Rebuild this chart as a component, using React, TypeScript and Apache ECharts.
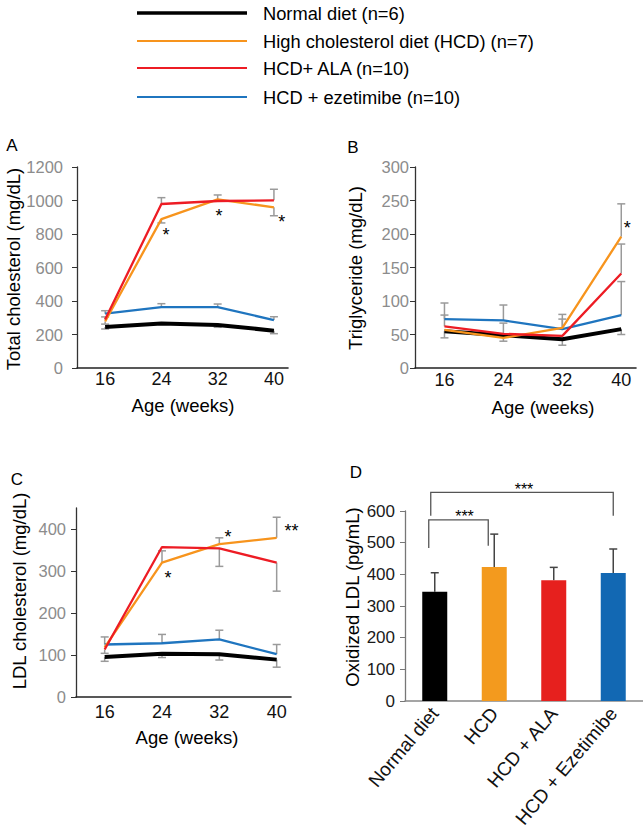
import React, { useEffect, useRef } from "react";
import * as echarts from "echarts";

const FONT = "'Liberation Sans', Arial, Helvetica, sans-serif";

// ---------- shared ----------
const weeks = [16, 24, 32, 40];
const groupNames = [
  "Normal diet (n=6)",
  "High cholesterol diet (HCD) (n=7)",
  "HCD+ ALA (n=10)",
  "HCD + ezetimibe (n=10)",
];
const groupColors = ["#000000", "#F7941D", "#ED1C24", "#1F75BF"];
const groupWidths = [4, 2.3, 2.3, 2.3];
const drawOrder = [0, 3, 1, 2];

// ---------- A: total cholesterol (mg/dL) ----------
const tcNormal = [245, 265, 257, 223];
const tcHCD = [278, 889, 1007, 959];
const tcALA = [290, 979, 997, 1001];
const tcEze = [324, 364, 364, 286];
// [week, mean, whisker end]
const tcErr = [
  [16, 324, 342], [16, 290, 305], [16, 278, 262], [16, 245, 233],
  [24, 979, 1017], [24, 889, 866], [24, 364, 384],
  [32, 1007, 1033], [32, 364, 382], [32, 257, 243],
  [40, 1001, 1067], [40, 959, 909], [40, 286, 306], [40, 223, 205],
];
const tcStars = [[24.65, 818], [32.2, 931], [41.1, 896]];
const tcStarText = ["*", "*", "*"];

// ---------- B: triglyceride (mg/dL) ----------
const tgNormal = [55, 49, 43, 58];
const tgHCD = [57, 45, 60, 196];
const tgALA = [62, 51, 48, 141];
const tgEze = [73, 71, 58, 79];
const tgErr = [
  [16, 73, 97], [16, 62, 79], [16, 55, 45],
  [24, 71, 94], [24, 51, 67], [24, 49, 40],
  [32, 58, 80], [32, 60, 73], [32, 43, 34],
  [40, 196, 245], [40, 141, 185], [40, 79, 129], [40, 58, 50],
];
const tgStars = [[40.8, 215]];
const tgStarText = ["*"];

// ---------- C: LDL cholesterol (mg/dL) ----------
const ldlNormal = [95, 103, 102, 89];
const ldlHCD = [118, 320, 364, 379];
const ldlALA = [113, 357, 354, 320];
const ldlEze = [125, 128, 137, 102];
const ldlErr = [
  [16, 125, 143], [16, 113, 104], [16, 95, 85],
  [24, 320, 348], [24, 128, 149], [24, 103, 94],
  [32, 364, 379], [32, 354, 311], [32, 137, 159], [32, 102, 88],
  [40, 379, 428], [40, 320, 252], [40, 102, 125], [40, 89, 71],
];
const ldlStars = [[24.84, 293], [33.2, 390], [42.07, 405]];
const ldlStarText = ["*", "*", "**"];

// ---------- D: oxidized LDL (pg/mL) ----------
const oxNames = ["Normal diet", "HCD", "HCD + ALA", "HCD + Ezetimibe"];
const oxValues = [345, 423, 381, 404];
const oxErrHigh = [405, 527, 422, 480];
const oxColors = ["#000000", "#F39A1E", "#E6201E", "#1268B3"];
// [from index, to index, bracket top, left leg end, right leg end]
const oxBrackets = [
  [0, 1, 572, 483, 490],
  [0, 3, 659, 585, 585],
];
const oxBracketText = ["***", "***"];

const linePanels = [
  { y: [tcNormal, tcHCD, tcALA, tcEze], err: tcErr, stars: tcStars, starText: tcStarText },
  { y: [tgNormal, tgHCD, tgALA, tgEze], err: tgErr, stars: tgStars, starText: tgStarText },
  { y: [ldlNormal, ldlHCD, ldlALA, ldlEze], err: ldlErr, stars: ldlStars, starText: ldlStarText },
];

function text(x: number, y: number, s: string, size: number, extra: any = {}) {
  return {
    type: "text",
    x,
    y,
    rotation: extra.rotation || 0,
    style: {
      text: s,
      font: `${size}px ${FONT}`,
      fill: extra.fill || "#000",
      align: extra.align || "center",
      verticalAlign: "middle",
      textAlign: extra.align || "center",
      textVerticalAlign: "middle",
    },
  };
}

const plain = (v: number) => String(v);

export default function App() {
  const ref = useRef<HTMLDivElement>(null);

  useEffect(() => {
    document.body.style.margin = "0";
    const chart = echarts.init(ref.current!, null, { renderer: "svg" });

    const grids = [
      { left: 77, top: 167, width: 211, height: 201 },
      { left: 415, top: 167, width: 221, height: 201 },
      { left: 76, top: 508, width: 215, height: 189 },
      { left: 405, top: 511, width: 244, height: 190 },
    ];

    const lineX = (labelMargin: number) => ({
      type: "value",
      min: 12,
      max: 42,
      axisLine: { show: true, onZero: false, lineStyle: { color: "#222", width: 1.6 } },
      axisTick: { show: false },
      splitLine: { show: false },
      axisLabel: {
        customValues: weeks,
        formatter: plain,
        color: "#111",
        fontSize: 18,
        fontFamily: FONT,
        margin: labelMargin,
      },
    });

    const xAxis: any[] = [
      { ...lineX(2), gridIndex: 0 },
      { ...lineX(3), gridIndex: 1 },
      { ...lineX(6), gridIndex: 2 },
      {
        gridIndex: 3,
        type: "category",
        data: oxNames,
        boundaryGap: true,
        axisLine: { show: true, lineStyle: { color: "#888", width: 1.5 } },
        axisTick: { show: false },
        axisLabel: {
          interval: 0,
          rotate: 50,
          color: "#111",
          fontSize: 19,
          fontFamily: FONT,
          margin: 9,
        },
      },
    ];

    const yBase = (gi: number, max: number, interval: number, margin: number, color: string, lineColor: string, fs: number, custom?: number[]) => ({
      gridIndex: gi,
      type: "value",
      min: 0,
      max,
      interval,
      splitLine: { show: false },
      axisLine: { show: true, lineStyle: { color: lineColor, width: 1.3 } },
      axisTick: custom
        ? { show: true, length: 5, customValues: custom, lineStyle: { color: lineColor } }
        : { show: true, length: 5, lineStyle: { color: lineColor } },
      axisLabel: custom
        ? { customValues: custom, formatter: plain, color, fontSize: fs, fontFamily: FONT, margin }
        : { formatter: plain, color, fontSize: fs, fontFamily: FONT, margin },
    });

    const yAxis: any[] = [
      yBase(0, 1200, 200, 14, "#8c8c8c", "#333", 16.5),
      yBase(1, 300, 50, 6, "#8c8c8c", "#333", 16.5),
      yBase(2, 450, 50, 10, "#8c8c8c", "#333", 16.5, [0, 100, 200, 300, 400]),
      yBase(3, 600, 100, 10, "#1a1a1a", "#777", 17),
    ];

    const series: any[] = [];
    linePanels.forEach((p, pi) => {
      series.push({
        type: "custom",
        xAxisIndex: pi,
        yAxisIndex: pi,
        z: 1,
        clip: false,
        data: p.err,
        renderItem: (params: any, api: any) => {
          const a = api.coord([api.value(0), api.value(1)]);
          const b = api.coord([api.value(0), api.value(2)]);
          const st = { stroke: "#9a9a9a", lineWidth: 1.5 };
          return {
            type: "group",
            children: [
              { type: "line", shape: { x1: a[0], y1: a[1], x2: b[0], y2: b[1] }, style: st },
              { type: "line", shape: { x1: b[0] - 4, y1: b[1], x2: b[0] + 4, y2: b[1] }, style: st },
            ],
          };
        },
      });
      drawOrder.forEach((gi) => {
        series.push({
          type: "line",
          name: groupNames[gi],
          xAxisIndex: pi,
          yAxisIndex: pi,
          z: 3,
          showSymbol: false,
          symbol: "none",
          data: weeks.map((w, i) => [w, p.y[gi][i]]),
          lineStyle: { color: groupColors[gi], width: groupWidths[gi] },
          itemStyle: { color: groupColors[gi] },
        });
      });
      series.push({
        type: "custom",
        xAxisIndex: pi,
        yAxisIndex: pi,
        z: 4,
        clip: false,
        data: p.stars,
        renderItem: (params: any, api: any) => {
          const c = api.coord([api.value(0), api.value(1)]);
          return text(c[0], c[1] + 4, p.starText[params.dataIndex], 18);
        },
      });
    });

    // D bars
    series.push({
      type: "bar",
      xAxisIndex: 3,
      yAxisIndex: 3,
      barWidth: 25,
      z: 2,
      data: oxValues.map((v, i) => ({ value: v, itemStyle: { color: oxColors[i] } })),
    });
    series.push({
      type: "custom",
      xAxisIndex: 3,
      yAxisIndex: 3,
      z: 1,
      clip: false,
      data: oxValues.map((v, i) => [i, v, oxErrHigh[i]]),
      renderItem: (params: any, api: any) => {
        const a = api.coord([api.value(0), api.value(1)]);
        const b = api.coord([api.value(0), api.value(2)]);
        const st = { stroke: "#444", lineWidth: 1.5 };
        return {
          type: "group",
          children: [
            { type: "line", shape: { x1: a[0], y1: a[1], x2: b[0], y2: b[1] }, style: st },
            { type: "line", shape: { x1: b[0] - 4, y1: b[1], x2: b[0] + 4, y2: b[1] }, style: st },
          ],
        };
      },
    });
    const legNudge = [[-6, -6], [-4, 0]];
    series.push({
      type: "custom",
      xAxisIndex: 3,
      yAxisIndex: 3,
      z: 3,
      clip: false,
      data: oxBrackets,
      renderItem: (params: any, api: any) => {
        const i = params.dataIndex;
        const top1 = api.coord([api.value(0), api.value(2)]);
        const top2 = api.coord([api.value(1), api.value(2)]);
        const l1 = api.coord([api.value(0), api.value(3)]);
        const l2 = api.coord([api.value(1), api.value(4)]);
        const x1 = top1[0] + legNudge[i][0];
        const x2 = top2[0] + legNudge[i][1];
        return {
          type: "group",
          children: [
            {
              type: "polyline",
              shape: { points: [[x1, l1[1]], [x1, top1[1]], [x2, top2[1]], [x2, l2[1]]] },
              style: { stroke: "#555", lineWidth: 1.3, fill: "none" },
            },
            text((top1[0] + top2[0]) / 2, top1[1] - 3, oxBracketText[i], 16),
          ],
        };
      },
    });

    const graphic: any[] = [];
    // legend
    const legendY = [13, 41, 68, 97];
    groupNames.forEach((n, i) => {
      graphic.push({
        type: "line",
        shape: { x1: 137, y1: legendY[i], x2: 247, y2: legendY[i] },
        style: { stroke: groupColors[i], lineWidth: i === 0 ? 3.5 : 2 },
      });
      graphic.push(text(263, legendY[i], n, 18.3, { align: "left" }));
    });
    // panel letters
    graphic.push(text(12, 145, "A", 17));
    graphic.push(text(353, 147, "B", 17));
    graphic.push(text(17, 479, "C", 17));
    graphic.push(text(356, 472, "D", 17));
    // axis names
    const rot = Math.PI / 2;
    graphic.push(text(13, 269, "Total cholesterol (mg/dL)", 18.5, { rotation: rot }));
    graphic.push(text(355, 268, "Triglyceride (mg/dL)", 18.5, { rotation: rot }));
    graphic.push(text(19, 591, "LDL cholesterol (mg/dL)", 18.5, { rotation: rot }));
    graphic.push(text(352, 597, "Oxidized LDL (pg/mL)", 18.5, { rotation: rot }));
    graphic.push(text(183, 405, "Age (weeks)", 18.5));
    graphic.push(text(543, 407, "Age (weeks)", 18.5));
    graphic.push(text(187, 737, "Age (weeks)", 18.5));

    chart.setOption({
      animation: false,
      backgroundColor: "#ffffff",
      textStyle: { fontFamily: FONT },
      grid: grids,
      xAxis,
      yAxis,
      series,
      graphic,
    });

    return () => chart.dispose();
  }, []);

  return <div ref={ref} style={{ width: 643, height: 835 }} />;
}
